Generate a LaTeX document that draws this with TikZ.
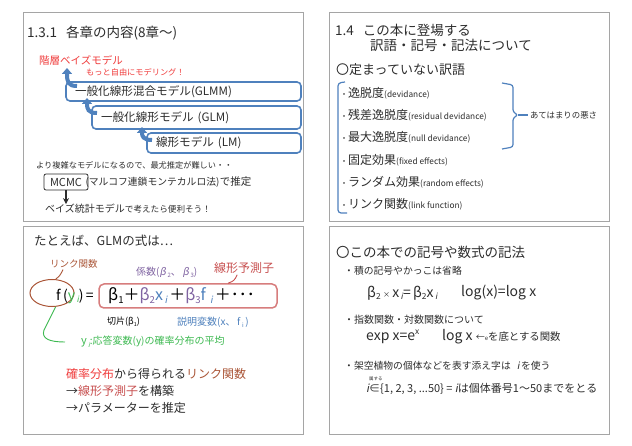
\documentclass[tikz,border=0pt]{standalone}
\usepackage{fontspec}
\setmainfont{Noto Sans CJK JP}[AutoFakeSlant=0.2]
\usetikzlibrary{calc, positioning, shapes.geometric, arrows.meta}

\definecolor{boxblue}{RGB}{79,129,189}
\definecolor{hbmred}{RGB}{240,60,60}
\definecolor{linkbrown}{RGB}{170,85,55}
\definecolor{lprose}{RGB}{200,80,80}
\definecolor{lpframe}{RGB}{215,125,125}
\definecolor{coefpurple}{RGB}{128,100,162}
\definecolor{ygreen}{RGB}{60,185,80}
\definecolor{txtgray}{RGB}{45,45,45}
\definecolor{framegray}{RGB}{165,165,165}

\newcommand{\fsz}[1]{\fontsize{#1}{#1}\selectfont}
\newcommand{\lowidx}[1]{\raisebox{-0.35ex}{\scalebox{0.6}{#1}}}
\newcommand{\highidx}[1]{\raisebox{0.8ex}{\scalebox{0.6}{#1}}}

\begin{document}
\begin{tikzpicture}[x=1pt, y=-1pt,
  panel/.style = {draw=framegray, line width=0.9pt},
  lbl/.style = {anchor=west, inner sep=0pt, text=txtgray},
  item/.style = {lbl, font=\fsz{12}},
  lvbox/.style = {draw=boxblue, line width=1.6pt, rounded corners=4pt,
                  align=left, inner xsep=9pt, inner ysep=0pt, font=\fsz{11.6}, text=txtgray},
  bluearr/.style = {draw=boxblue, line width=4pt, -{Triangle[width=10pt,length=6pt]}},
  bracket/.style = {draw=boxblue, line width=1.2pt}]

  % Page and panels
  \path[fill=white, use as bounding box] (0,0) rectangle (632,446);
  \draw[panel] (23,12) rectangle (303,221);
  \draw[panel] (329,12) rectangle (609,221);
  \draw[panel] (23,226) rectangle (303,434);
  \draw[panel] (329,226) rectangle (609,434);

  % Panel 1: chapters
  \node[lbl, font=\fsz{13.5}] (ttl1) at (27,33) {1.3.1\hspace{9pt}各章の内容(8章～)};
  \node[lbl, font=\fsz{10.5}, text=hbmred] (hbm) at (39,60) {階層ベイズモデル};
  \node[lbl, font=\fsz{8.2}, text=hbmred] (motto) at (86,72) {もっと自由にモデリング！};

  % Arrows between the models
  \draw[bluearr] (77,86) .. controls (68,86) and (67,82) .. (67,68);
  \draw[bluearr] (97,113) .. controls (88,113) and (87,109) .. (87,98);
  \draw[bluearr] (152,140) .. controls (143,140) and (142,136) .. (142,127);

  \node[lvbox, text width=217pt, minimum height=19pt] (glmm) at (183.5,91.5) {一般化線形混合モデル(GLMM)};
  \node[lvbox, text width=191pt, minimum height=23pt] (glm) at (196.5,117.5) {一般化線形モデル (GLM)};
  \node[lvbox, text width=136pt, minimum height=20pt] (lm) at (224,143) {線形モデル (LM)};

  \node[lbl, font=\fsz{8.2}] (hard) at (36,165) {より複雑なモデルになるので、最尤推定が難しい・・};
  \node[draw=txtgray, line width=0.8pt, rounded corners=2pt, minimum width=44pt,
        minimum height=16pt, inner sep=0pt, font=\fsz{11}, text=txtgray] (mcmc) at (66,182) {MCMC};
  \node[lbl, font=\fsz{9.8}, right=-3pt of mcmc] (markov) {(マルコフ連鎖モンテカルロ法)};
  \node[lbl, font=\fsz{10.5}, right=0pt of markov] (suitei) {で推定};
  \node[lbl, font=\fsz{10}] (bayes) at (45,209) {ベイズ統計モデル{\fsz{8.6}で考えたら便利そう！}};
  \draw[txtgray, line width=1.3pt, -{Stealth[length=6pt,width=6pt]}] (mcmc.south) -- (mcmc.south |- bayes.north);

  % Panel 2: terms
  \node[lbl, font=\fsz{13.5}] (ttl2) at (335,30) {1.4\hspace{9pt}この本に登場する};
  \node[lbl, font=\fsz{13.5}] (ttl2b) at (370,45) {訳語・記号・記法について};
  \node[lbl, font=\fsz{13}] (undef) at (336,70) {〇定まっていない訳語};

  \node[item] (dev) at (340,93) {{\fsz{8}・}逸脱度{\fsz{8.3}(devidance)}};
  \node[item] (resdev) at (340,115) {{\fsz{8}・}残差逸脱度{\fsz{8.3}(residual devidance)}};
  \node[item] (nulldev) at (340,137) {{\fsz{8}・}最大逸脱度{\fsz{8.3}(null devidance)}};
  \node[item] (fixed) at (340,160) {{\fsz{8}・}固定効果{\fsz{8.3}(fixed effects)}};
  \node[item] (random) at (340,182) {{\fsz{8}・}ランダム効果{\fsz{8.3}(random effects)}};
  \node[item] (link) at (340,204) {{\fsz{8}・}リンク関数{\fsz{8.3}(link function)}};

  % Brackets
  \draw[bracket, rounded corners=3pt] (345,82) -- (338,83) -- (338,213) -- (347,213);
  \draw[bracket, rounded corners=2.5pt] (502,83) -- (513,85) -- (513,112) -- (518,115)
    -- (513,118) -- (513,147) -- (502,149);
  \node[lbl, font=\fsz{8.4}] (badfit) at (530,115) {あてはまりの悪さ};
  \draw[bracket, shorten >=2pt] (518,115) -- (badfit.west);

  % Panel 3: GLM formula
  \node[lbl, font=\fsz{12.5}] (eg) at (34,241) {たとえば、GLMの式は…};
  \node[lbl, font=\fsz{9.5}, text=linkbrown] (linklbl) at (50,264) {リンク関数};
  \node[ellipse, draw=linkbrown, line width=1pt, minimum width=44pt, minimum height=27pt,
        inner sep=0pt] (lfcirc) at (52,293) {};
  \node[lbl, font=\fsz{14}, text=black] (fy) at (56,296) {f\,(\textcolor{ygreen}{y\lowidx{\,\textit{i}}})\,=};
  \node[draw=lpframe, line width=1.5pt, rounded corners=5pt, minimum width=178pt,
        minimum height=24pt] (lpbox) at (188,296) {};
  \node[lbl, font=\fsz{16}, text=black] (lpform) at (108,296)
    {β\lowidx{1}＋\textcolor{coefpurple}{β\lowidx{2}}\textcolor{boxblue}{x\lowidx{\,\textit{i}}}\kern2pt＋\textcolor{coefpurple}{β\lowidx{3}}\textcolor{boxblue}{f\,\lowidx{\,\textit{i}}}\kern2pt＋･･･};
  \node[lbl, font=\fsz{10}, text=coefpurple] (coef) at (136,272) {係数({\itshape β}\,\lowidx{2}、\,{\itshape β}\,\lowidx{3})};
  \node[lbl, font=\fsz{12}, text=lprose] (lplbl) at (214,268) {線形予測子};
  \node[lbl, font=\fsz{9}, text=black] (icpt) at (107,322) {切片(β\lowidx{1})};
  \node[lbl, font=\fsz{10}, text=boxblue] (expl) at (177,322) {説明変数(x、\,f\,\lowidx{i}\,)};
  \node[lbl, font=\fsz{10}, text=ygreen] (ygl) at (81,342) {{\fsz{11}y\lowidx{\,\textit{i}}}:応答変数(y)の確率分布の平均};

  % Callout lines
  \draw[linkbrown, line width=0.9pt] ($(linklbl.south west)+(13,1)$) .. controls ($(linklbl.south west)+(10,7)$) .. (lfcirc.75);
  \draw[lprose, line width=0.9pt] ($(lplbl.south)+(-7,1)$) .. controls ($(lplbl.south)+(-10,7)$) .. ($(lpbox.north)+(40,0)$);
  \draw[ygreen, line width=0.9pt] (lfcirc.-75) -- (44,330) .. controls (41,339) and (50,342) .. ($(ygl.west)+(-16,0)$);

  \node[lbl, font=\fsz{12}] (sum1) at (66,374) {\textcolor{hbmred}{確率分布}から得られる\textcolor{linkbrown}{リンク関数}};
  \node[lbl, font=\fsz{12}] (sum2) at (66,391) {→\textcolor{lprose}{線形予測子}を構築};
  \node[lbl, font=\fsz{12}] (sum3) at (66,408) {→パラメーターを推定};

  % Panel 4: notation
  \node[lbl, font=\fsz{13.5}] (ttl4) at (336,252) {〇この本での記号や数式の記法};
  \node[lbl, font=\fsz{9.8}] (omit) at (344,271) {・積の記号やかっこは省略};
  \node[lbl, font=\fsz{14}] (prod) at (367,293) {β\lowidx{2}\,{\fsz{7}×}\,x\lowidx{\,\textit{i}}=\,β\lowidx{2}x\lowidx{\,\textit{i}}};
  \node[lbl, font=\fsz{14}] (logx) at (461,293) {log(x)=log x};
  \node[lbl, font=\fsz{10}] (explog) at (344,320) {・指数関数・対数関数について};
  \node[lbl, font=\fsz{14}] (expx) at (366,337) {exp x=e\highidx{x}};
  \node[lbl, font=\fsz{14}] (loge) at (442,337) {log x {\fsz{9}←}{\fsz{6}e}{\fsz{10.4}を底とする関数}};
  \node[lbl, font=\fsz{9.8}] (subsc) at (344,366) {・架空植物の個体などを表す添え字は\hspace{6pt}\textit{i}\,を使う};
  \node[lbl, font=\fsz{4.5}] (zoku) at (369,379) {属する};
  \node[lbl, font=\fsz{11}] (irange) at (366,389) {\textit{i}∈\{1, 2, 3, ...50\} = \textit{i}は個体番号1～50までをとる};

\end{tikzpicture}
\end{document}
